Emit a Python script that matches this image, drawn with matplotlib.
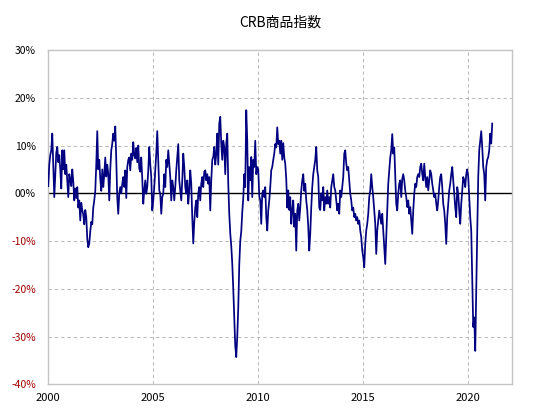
import numpy as np
import matplotlib
matplotlib.use("Agg")
import matplotlib.pyplot as plt

plt.rcParams['font.family'] = ['Noto Sans CJK JP', 'DejaVu Sans']

title = "CRB商品指数"

# readings about every 2.5 weeks (21 per year), in percent
y2000 = [1.5, 6, 8, 9, 12.5, 6, -0.8, 4, 8.5, 9.7, 6.5, 8, 5, 1, 9, 5, 9, 4, 6, 2.5, -0.8]
y2001 = [4, 3, 1.5, 5, 2.5, -1.5, 1, -1, 1.3, -3, -1.5, -5.7, -2, -3.5, -4.5, -6.5, -3.5, -5, -9.5, -11.3, -10.5]
y2002 = [-8, -6, -6.5, -3, -1.5, 0.5, 6, 13, 5, 7, 3, 0.5, 5, 1.3, 4, 7.5, 3.5, 6, 4, -1.5, 5]
y2003 = [9, 10.4, 12.5, 11, 14, 7, -1, -4.3, 0, 1.3, 0, 2, 3.4, 1.3, 4.8, -1, 5.5, 7, 7.5, 4.8, 8.3]
y2004 = [7, 10.7, 8, 7.3, 9.5, 6.5, 10, 5.2, 4.5, 7.5, 3, -2.2, 0.6, 2.7, -0.1, 1.3, 4.8, 9.7, 6.1, 3.4, -3.6]
y2005 = [-1.5, 1.3, 4.8, 8.3, 13, 6.8, 0.6, -0.1, -4.3, -0.8, -0.1, 4, 1.3, 7, 5.5, 9, 6.1, 3.4, -1.5, 2.7, 1.3]
y2006 = [-1.5, 1.3, 4.8, 7.5, 10.3, 2.7, 0.6, -1.5, 2.7, 8.3, 5.5, 1.3, -0.1, 2.7, -2.2, 0.6, 4.8, 2, -5, -10.5, -6]
y2007 = [-3, -1.5, -5, 0, 1.3, -1.5, 2, 3.4, 1.3, 4.5, 4.8, 2.7, 4, 2, 3.4, -3.6, 2.7, 7, 7.6, 9.7, 6]
y2008 = [8.3, 12.5, 6, 14.6, 16, 10.4, 7, 11, 9.7, 4, 10.4, 12.5, 2, -4.3, -8.4, -11, -14.7, -20, -26, -32, -34.3]
y2009 = [-30, -24, -15, -10, -8, -4, -1, 4, 1.3, 17.4, 11, -1.5, 5.5, 2.7, 7.6, -0.8, 7, 5.5, 11, 4, 5.5]
y2010 = [5, -0.6, -1.5, -6.4, 0, 0.6, -0.8, 1.3, -5, -7.8, -3.6, -1.5, 1.3, 4.8, 5.5, 7, 8.3, 10.3, 9.6, 13.8, 10.3]
y2011 = [11, 8.3, 11, 7, 10.5, 7.5, 6.2, 3, -3, 0.6, -3.5, -0.8, -6.4, -3.6, -1.5, -7, -4.3, -12, -3.6, -2.2, -5.7]
y2012 = [-3, 0.6, 2.7, 4, 0.5, 2, -1.5, -3.5, -7, -12, -8.4, -3, 1.3, 4, 5.5, 7, 9.7, 4.8, 3.4, -3, -3.5]
y2013 = [0, -1.5, 1.3, -3.6, -0.8, -2.2, 0.6, -2.2, -0.8, -3, 1.3, 2.7, 4, 1.3, 0.6, -1.5, -3.6, -2.2, -4.3, 0.6, -0.8]
y2014 = [1.3, 3.4, 8.3, 9, 6.2, 4.8, 5.5, 2.7, -0.1, -1.5, -3.6, -3, -5, -4.3, -5.7, -5, -6.4, -5.7, -7.8, -9.2, -12]
y2015 = [-13.4, -15.5, -10.6, -7.8, -6.4, -4.3, -0.8, 0.6, 4, 1.3, -0.8, -3.6, -6.4, -12.7, -7.8, -5.7, -3.6, -5, -6.4, -4.3, -7.8]
y2016 = [-11, -14.8, -9.2, -3.6, 2, 4.8, 7.5, 9, 12.4, 8.3, 9.6, 4, -2.2, -3.6, -0.1, 2, 2.7, -0.8, 3, 4, 2.7]
y2017 = [0.6, -0.8, -2.9, -1.5, -4.3, -2.9, -5.7, -8.5, -3.6, -0.1, 2, 1.3, 3.4, 4, 3.4, 5.5, 6.2, 4, 2.7, 6.2, 3.4]
y2018 = [1.3, 3.4, 0.6, 2.7, 4.8, 4, 2, 0.6, -0.8, -0.1, -2.2, -3.6, -1.5, 1.3, 3.4, 4, 1.3, -2.2, -3.6, -6.4, -10.6]
y2019 = [-5, -2.2, 0.6, 2, 4, 5.5, 2.7, -0.1, -2.9, -5, 1.3, -0.1, -3.6, -6.4, -2.2, 0.6, 3.4, 2.7, 1.3, 4, 5]
y2020 = [3.4, -0.8, -5, -7.8, -17.6, -28, -26, -33, -20, -8, 3.4, 9, 11, 13, 9.6, 5.5, 4, -1.5, 5.5, 7, 7.6]
y2021 = [9, 12.5, 10.4, 14.6]

years = list(range(2000, 2022))
series = [y2000, y2001, y2002, y2003, y2004, y2005, y2006, y2007, y2008, y2009, y2010,
          y2011, y2012, y2013, y2014, y2015, y2016, y2017, y2018, y2019, y2020, y2021]

x = np.concatenate([yr + np.arange(len(v)) / 21.0 for yr, v in zip(years, series)])
y = np.concatenate([np.array(v, dtype=float) for v in series])

ytick_vals = [-40, -30, -20, -10, 0, 10, 20, 30]
ytick_labels = ["-40%", "-30%", "-20%", "-10%", "00%", "10%", "20%", "30%"]
xtick_vals = [2000, 2005, 2010, 2015, 2020]

fig = plt.figure(figsize=(5.4, 4.18), dpi=100)
ax = fig.add_axes([0.0894, 0.0806, 0.8582, 0.7998])

ax.plot(x, y, color='#000080', lw=1.25, zorder=3)
ax.axhline(0, color='black', lw=1.0, zorder=2)

ax.set_xlim(2000, 2022.07)
ax.set_ylim(-40, 30)
ax.set_yticks(ytick_vals)
ax.set_yticklabels(ytick_labels)
ax.set_xticks(xtick_vals)
ax.set_xticklabels([str(v) for v in xtick_vals])

for lab, v in zip(ax.get_yticklabels(), ytick_vals):
    lab.set_color('#a00000' if v < 0 else 'black')

ax.tick_params(axis='y', length=0, labelsize=7.5, pad=9)
ax.tick_params(axis='x', length=0, labelsize=8, pad=6)

ax.grid(True, color='#b8b8b8', lw=0.7, linestyle=(0, (3.5, 3)))
ax.set_axisbelow(True)
for s in ax.spines.values():
    s.set_color('#c4c4c4')
    s.set_linewidth(1.0)

fig.text(0.52, 0.945, title, ha='center', va='center', fontsize=10)

fig.savefig("out.png", dpi=100)
